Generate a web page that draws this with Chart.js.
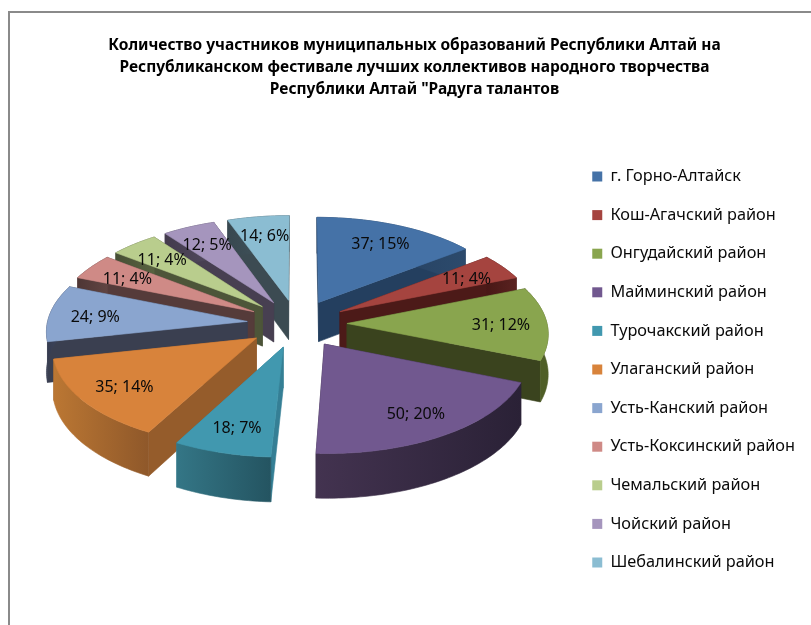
<!DOCTYPE html>
<html><head><meta charset="utf-8">
<script src="https://cdn.jsdelivr.net/npm/chart.js@4"></script>
<style>
html,body{margin:0;padding:0;background:#fff;overflow:hidden}
#wrap{position:absolute;left:0;top:0;width:811px;height:625px;overflow:hidden}
#frame{position:absolute;left:8px;top:11px;right:-4px;bottom:-4px;border:2px solid #8a8a8a;box-sizing:border-box}
canvas{position:absolute;left:0;top:0}
</style></head><body>
<div id="wrap"><div id="frame"></div><canvas id="c" width="811" height="625"></canvas></div>
<script>
const categories = ["г. Горно-Алтайск","Кош-Агачский район","Онгудайский район","Майминский район","Турочакский район","Улаганский район","Усть-Канский район","Усть-Коксинский район","Чемальский район","Чойский район","Шебалинский район"];
const values = [37,11,31,50,18,35,24,11,11,12,14];
const titleLines = ["Количество участников муниципальных образований Республики Алтай на","Республиканском фестивале лучших коллективов народного творчества","Республики Алтай \"Радуга талантов"];

const topColors  = ["#4572a7","#a5443f","#89a54e","#71588f","#4198af","#d8833b","#8aa5cf","#cf8a86","#b9cd8d","#a595bd","#8bbdd2"];
const wallColors = ["#243f5f","#4c1a18","#3a431e","#2d2339","#357f95","#955c2b","#3a3f50","#553b3a","#4d5539","#473f51","#3c4b52"];
const rimLight   = ["#2c4a6c","#5a2220","#4f5e27","#433350","#347686","#bb7733","#424b66","#604442","#586240","#524a5e","#465860"];
const rimDark    = ["#223a58","#481816","#3f4a20","#2a2136","#245461","#8f582a","#363c50","#4e3635","#474f36","#433b4d","#384850"];

const FLAT=0.48, EXPLODE=0.25, DEPTH=0.2, PERSP=0.0876, LABEL_R=0.77, LABEL_DY=2;
let SHIFT_Y=0;
const TARGET_CY=323.5;

const pie3d = {
  id:'pie3d',
  beforeDatasetDraw(){ return false; },
  afterDatasetsDraw(chart){
    const ctx=chart.ctx, arcs=chart.getDatasetMeta(0).data;
    SHIFT_Y=TARGET_CY-arcs[0].y;
    const total=values.reduce((a,b)=>a+b,0);
    const proj=(arc,u,v,down)=>{
      const s=1/(1-PERSP*v), R=arc.outerRadius;
      return [arc.x+R*u*s, arc.y+SHIFT_Y+R*FLAT*v*s+(down?R*DEPTH*s:0)];
    };
    const poly=(pts,fill)=>{ctx.beginPath();pts.forEach((p,i)=>i?ctx.lineTo(p[0],p[1]):ctx.moveTo(p[0],p[1]));ctx.closePath();
      ctx.fillStyle=fill;ctx.strokeStyle=fill;ctx.lineWidth=0.6;ctx.fill();ctx.stroke();};
    const order=arcs.map((a,i)=>i).sort((p,q)=>Math.sin((arcs[p].startAngle+arcs[p].endAngle)/2)-Math.sin((arcs[q].startAngle+arcs[q].endAngle)/2));
    ctx.save();
    for(const i of order){
      const a=arcs[i], mid=(a.startAngle+a.endAngle)/2;
      const ox=Math.cos(mid)*EXPLODE, oy=Math.sin(mid)*EXPLODE;
      const N=Math.max(6,Math.round((a.endAngle-a.startAngle)*50));
      const ring=[];
      for(let k=0;k<=N;k++){const an=a.startAngle+(a.endAngle-a.startAngle)*k/N;ring.push([ox+Math.cos(an),oy+Math.sin(an)]);}
      const V=[ox,oy];
      const quad=(P,Q)=>[proj(a,P[0],P[1]),proj(a,Q[0],Q[1]),proj(a,Q[0],Q[1],1),proj(a,P[0],P[1],1)];
      const walls=[
        {d:(V[1]+ring[0][1])/2,pts:quad(V,ring[0]),col:wallColors[i]},
        {d:(V[1]+ring[N][1])/2,pts:quad(V,ring[N]),col:wallColors[i]}
      ];
      const first=proj(a,ring[0][0],ring[0][1]),last=proj(a,ring[N][0],ring[N][1]);
      const grad=ctx.createLinearGradient(first[0],0,last[0]===first[0]?first[0]+1:last[0],0);
      grad.addColorStop(0,rimDark[i]);grad.addColorStop(1,rimLight[i]);
      const rimPts=[...ring.map(p=>proj(a,p[0],p[1])),...ring.slice().reverse().map(p=>proj(a,p[0],p[1],1))];
      walls.sort((m,n)=>m.d-n.d).forEach(w=>poly(w.pts,w.col));
      poly(rimPts,grad);
      poly([proj(a,ox,oy),...ring.map(p=>proj(a,p[0],p[1]))],topColors[i]);
    }
    ctx.fillStyle='#0a0a0a';ctx.font='16px "Noto Sans"';ctx.textAlign='center';ctx.textBaseline='middle';
    arcs.forEach((a,i)=>{
      const mid=(a.startAngle+a.endAngle)/2,r=EXPLODE+LABEL_R;
      const p=proj(a,Math.cos(mid)*r,Math.sin(mid)*r);
      ctx.fillText(values[i]+'; '+Math.round(values[i]/total*100)+'%',p[0],p[1]+LABEL_DY);
    });
    ctx.restore();
  }
};

new Chart(document.getElementById('c'),{
  type:'pie',
  data:{labels:categories,datasets:[{data:values,backgroundColor:topColors,borderWidth:0}]},
  plugins:[pie3d],
  options:{
    responsive:false,animation:false,radius:200,
    layout:{padding:{left:24,right:6,top:0,bottom:-114}},
    plugins:{
      tooltip:{enabled:false},
      title:{display:true,text:titleLines,color:'#000',font:{family:'"Noto Sans"',size:15.5,weight:'bold',lineHeight:1.4},padding:{top:35,bottom:12}},
      legend:{position:'right',labels:{boxWidth:10,boxHeight:10,padding:22.3,color:'#0a0a0a',font:{family:'"Noto Sans"',size:16.3}}}
    }
  }
});
</script></body></html>
